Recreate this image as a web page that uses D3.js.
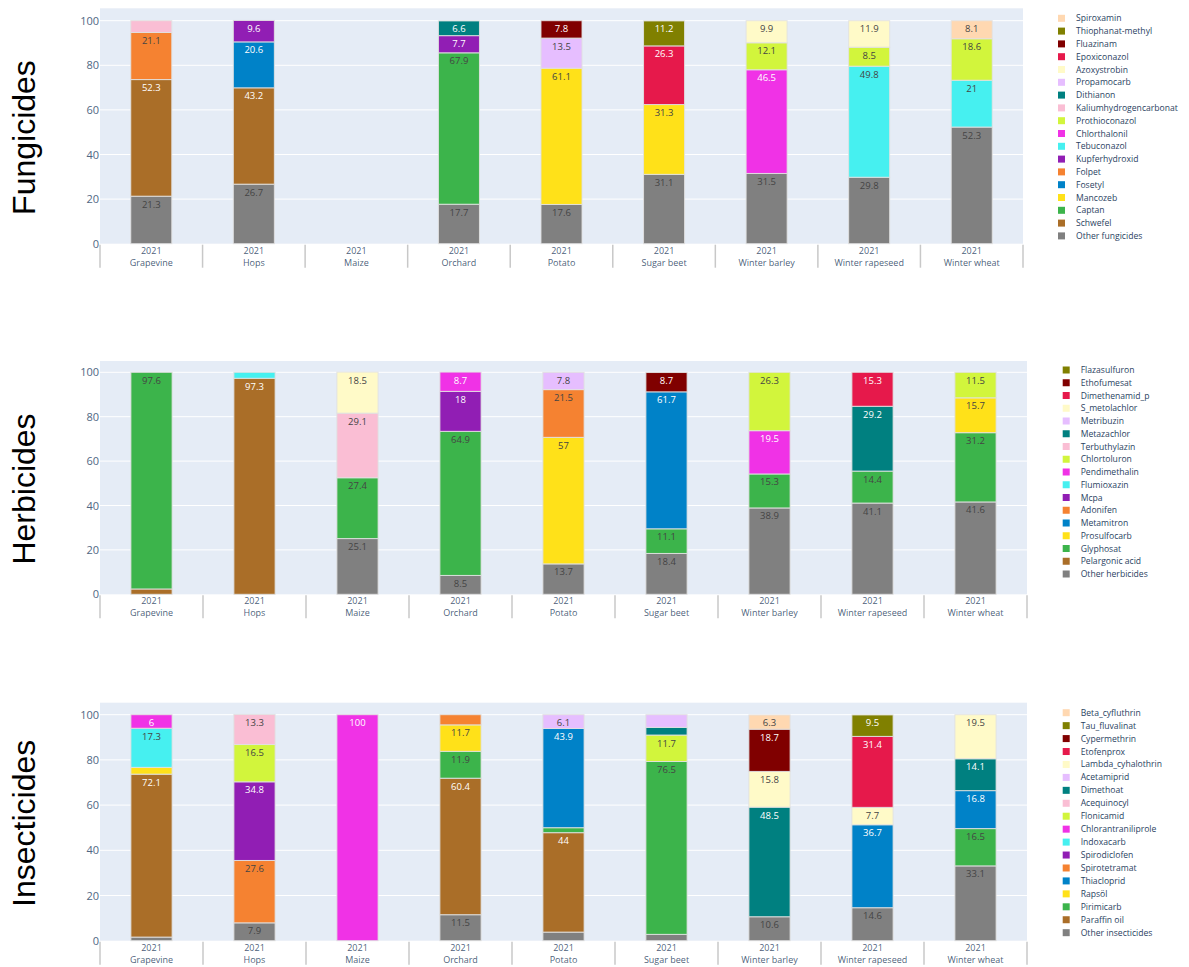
<!DOCTYPE html>
<html>
<head>
<meta charset="utf-8">
<script src="https://cdn.jsdelivr.net/npm/d3@7"></script>
<style>
  html, body { margin: 0; padding: 0; background: #fff; }
  svg { display: block; }
</style>
</head>
<body>
<svg id="chart" width="1189" height="967"></svg>
<script>
// Crops shown on every panel (one stacked bar each, survey year 2021)
const crops = ["Grapevine", "Hops", "Maize", "Orchard", "Potato", "Sugar beet", "Winter barley", "Winter rapeseed", "Winter wheat"];
const surveyYear = "2021";
const yTicks = [0, 20, 40, 60, 80, 100];

// Shared colour sequence: the n-th active substance of each panel gets the n-th colour
const palette = ["#808080", "#aa6e28", "#3cb44b", "#ffe119", "#0082c8", "#f58231", "#911eb4", "#46f0f0",
  "#f032e6", "#d2f53c", "#fabed4", "#008080", "#e6beff", "#fffac8", "#e6194b", "#800000", "#808000", "#ffd8b1"];

// Fungicides: share (%) of treatments per crop, stacked bottom to top
const fungicideNames = ["Other fungicides", "Schwefel", "Captan", "Mancozeb", "Fosetyl", "Folpet", "Kupferhydroxid",
  "Tebuconazol", "Chlorthalonil", "Prothioconazol", "Kaliumhydrogencarbonat", "Dithianon", "Propamocarb",
  "Azoxystrobin", "Epoxiconazol", "Fluazinam", "Thiophanat-methyl", "Spiroxamin"];
const fungicideShares = [
  [21.3, 26.7, 0, 17.7, 17.6, 31.1, 31.5, 29.8, 52.3],
  [52.3, 43.2, 0, 0, 0, 0, 0, 0, 0],
  [0, 0, 0, 67.9, 0, 0, 0, 0, 0],
  [0, 0, 0, 0, 61.1, 31.3, 0, 0, 0],
  [0, 20.6, 0, 0, 0, 0, 0, 0, 0],
  [21.1, 0, 0, 0, 0, 0, 0, 0, 0],
  [0, 9.6, 0, 7.7, 0, 0, 0, 0, 0],
  [0, 0, 0, 0, 0, 0, 0, 49.8, 21],
  [0, 0, 0, 0, 0, 0, 46.5, 0, 0],
  [0, 0, 0, 0, 0, 0, 12.1, 8.5, 18.6],
  [5.3, 0, 0, 0, 0, 0, 0, 0, 0],
  [0, 0, 0, 6.6, 0, 0, 0, 0, 0],
  [0, 0, 0, 0, 13.5, 0, 0, 0, 0],
  [0, 0, 0, 0, 0, 0, 9.9, 11.9, 0],
  [0, 0, 0, 0, 0, 26.3, 0, 0, 0],
  [0, 0, 0, 0, 7.8, 0, 0, 0, 0],
  [0, 0, 0, 0, 0, 11.2, 0, 0, 0],
  [0, 0, 0, 0, 0, 0, 0, 0, 8.1]
];

// Herbicides
const herbicideNames = ["Other herbicides", "Pelargonic acid", "Glyphosat", "Prosulfocarb", "Metamitron", "Adonifen",
  "Mcpa", "Flumioxazin", "Pendimethalin", "Chlortoluron", "Terbuthylazin", "Metazachlor", "Metribuzin",
  "S_metolachlor", "Dimethenamid_p", "Ethofumesat", "Flazasulfuron"];
const herbicideShares = [
  [0, 0, 25.1, 8.5, 13.7, 18.4, 38.9, 41.1, 41.6],
  [2.4, 97.3, 0, 0, 0, 0, 0, 0, 0],
  [97.6, 0, 27.4, 64.9, 0, 11.1, 15.3, 14.4, 31.2],
  [0, 0, 0, 0, 57, 0, 0, 0, 15.7],
  [0, 0, 0, 0, 0, 61.7, 0, 0, 0],
  [0, 0, 0, 0, 21.5, 0, 0, 0, 0],
  [0, 0, 0, 18, 0, 0, 0, 0, 0],
  [0, 2.7, 0, 0, 0, 0, 0, 0, 0],
  [0, 0, 0, 8.7, 0, 0, 19.5, 0, 0],
  [0, 0, 0, 0, 0, 0, 26.3, 0, 11.5],
  [0, 0, 29.1, 0, 0, 0, 0, 0, 0],
  [0, 0, 0, 0, 0, 0, 0, 29.2, 0],
  [0, 0, 0, 0, 7.8, 0, 0, 0, 0],
  [0, 0, 18.5, 0, 0, 0, 0, 0, 0],
  [0, 0, 0, 0, 0, 0, 0, 15.3, 0],
  [0, 0, 0, 0, 0, 8.7, 0, 0, 0],
  [0, 0, 0, 0, 0, 0, 0, 0, 0]
];

// Insecticides
const insecticideNames = ["Other insecticides", "Paraffin oil", "Pirimicarb", "Rapsöl", "Thiacloprid", "Spirotetramat",
  "Spirodiclofen", "Indoxacarb", "Chlorantraniliprole", "Flonicamid", "Acequinocyl", "Dimethoat", "Acetamiprid",
  "Lambda_cyhalothrin", "Etofenprox", "Cypermethrin", "Tau_fluvalinat", "Beta_cyfluthrin"];
const insecticideShares = [
  [1.6, 7.9, 0, 11.5, 3.8, 2.8, 10.6, 14.6, 33.1],
  [72.1, 0, 0, 60.4, 44, 0, 0, 0, 0],
  [0, 0, 0, 11.9, 2.2, 76.5, 0, 0, 16.5],
  [3.0, 0, 0, 11.7, 0, 0, 0, 0, 0],
  [0, 0, 0, 0, 43.9, 0, 0, 36.7, 16.8],
  [0, 27.6, 0, 4.5, 0, 0, 0, 0, 0],
  [0, 34.8, 0, 0, 0, 0, 0, 0, 0],
  [17.3, 0, 0, 0, 0, 0, 0, 0, 0],
  [6.0, 0, 100, 0, 0, 0, 0, 0, 0],
  [0, 16.5, 0, 0, 0, 11.7, 0, 0, 0],
  [0, 13.3, 0, 0, 0, 0, 0, 0, 0],
  [0, 0, 0, 0, 0, 3.4, 48.5, 0, 14.1],
  [0, 0, 0, 0, 6.1, 5.6, 0, 0, 0],
  [0, 0, 0, 0, 0, 0, 15.8, 7.7, 19.5],
  [0, 0, 0, 0, 0, 0, 0, 31.4, 0],
  [0, 0, 0, 0, 0, 0, 18.7, 0, 0],
  [0, 0, 0, 0, 0, 0, 0, 9.5, 0],
  [0, 0, 0, 0, 0, 0, 6.3, 0, 0]
];

// Panel layout
const panels = [
  { title: "Fungicides", names: fungicideNames, shares: fungicideShares,
    left: 100, right: 1023, top: 8.3, y100: 20.7, bottom: 243.7,
    legendX: 1058, legendY: 18.3, legendStep: 12.8, titleY: 137.5 },
  { title: "Herbicides", names: herbicideNames, shares: herbicideShares,
    left: 100, right: 1027, top: 361, y100: 372.3, bottom: 594.3,
    legendX: 1062.7, legendY: 370, legendStep: 12.75, titleY: 489 },
  { title: "Insecticides", names: insecticideNames, shares: insecticideShares,
    left: 100, right: 1027, top: 702.7, y100: 714.7, bottom: 940.7,
    legendX: 1062.7, legendY: 712.7, legendStep: 12.94, titleY: 823.3 }
];

const FONT = '"Open Sans", verdana, arial, sans-serif';
const INK = "#2a3f5f";
const svg = d3.select("#chart");

function labelColor(hex) {
  const c = d3.rgb(hex);
  const brightness = (c.r * 299 + c.g * 587 + c.b * 114) / 1000;
  return brightness >= 128 ? "#444" : "#fff";
}

panels.forEach(p => {
  const g = svg.append("g");
  const x = d3.scaleBand().domain(crops).range([p.left, p.right]).padding(0);
  const y = d3.scaleLinear().domain([0, 100]).range([p.bottom, p.y100]);
  const barW = x.bandwidth() * 0.4;

  // plot background + gridlines
  g.append("rect").attr("x", p.left).attr("y", p.top)
    .attr("width", p.right - p.left).attr("height", p.bottom - p.top).attr("fill", "#e5ecf6");
  g.append("g").selectAll("line").data(yTicks.slice(1)).join("line")
    .attr("x1", p.left).attr("x2", p.right)
    .attr("y1", d => y(d)).attr("y2", d => y(d))
    .attr("stroke", "#fff").attr("stroke-width", 1);

  // y axis labels
  const yAxis = d3.axisLeft(y).tickValues(yTicks).tickSize(0).tickPadding(1);
  const ya = g.append("g").attr("transform", `translate(${p.left},0)`).call(yAxis);
  ya.select(".domain").remove();
  ya.selectAll("text").attr("font-family", FONT).attr("font-size", 11).attr("fill", "#506784");

  // stacked bars
  const stack = d3.stack().keys(d3.range(p.names.length))
    .value((ci, k) => p.shares[k][ci]);
  const layers = stack(d3.range(crops.length));

  layers.forEach((layer, k) => {
    const color = palette[k];
    const segs = layer.map((s, ci) => ({ y0: s[0], y1: s[1], v: p.shares[k][ci], crop: crops[ci] }))
      .filter(d => d.v > 0);
    const lg = g.append("g");
    lg.selectAll("rect").data(segs).join("rect")
      .attr("x", d => x(d.crop) + (x.bandwidth() - barW) / 2)
      .attr("width", barW)
      .attr("y", d => y(d.y1))
      .attr("height", d => y(d.y0) - y(d.y1))
      .attr("fill", color)
      .attr("stroke", "rgba(225,225,225,0.9)")
      .attr("stroke-width", 1);
    lg.selectAll("text").data(segs.filter(d => d.v >= 6)).join("text")
      .attr("x", d => x(d.crop) + x.bandwidth() / 2)
      .attr("y", d => y(d.y1) + 11.5)
      .attr("text-anchor", "middle")
      .attr("font-family", FONT).attr("font-size", 9.5)
      .attr("fill", labelColor(color))
      .text(d => String(d.v));
  });

  // multi-level category axis: year row, crop row, separators
  const xa = g.append("g");
  xa.selectAll("text.yr").data(crops).join("text").attr("class", "yr")
    .attr("x", d => x(d) + x.bandwidth() / 2).attr("y", p.bottom + 10)
    .attr("text-anchor", "middle").attr("font-family", FONT).attr("font-size", 9)
    .attr("fill", INK).attr("fill-opacity", 0.85).text(surveyYear);
  xa.selectAll("text.crop").data(crops).join("text").attr("class", "crop")
    .attr("x", d => x(d) + x.bandwidth() / 2).attr("y", p.bottom + 21.8)
    .attr("text-anchor", "middle").attr("font-family", FONT).attr("font-size", 9)
    .attr("fill", INK).attr("fill-opacity", 0.85).text(d => d);
  const seps = crops.map(c => x(c)).concat([p.right]);
  xa.selectAll("line").data(seps).join("line")
    .attr("x1", d => d).attr("x2", d => d)
    .attr("y1", p.bottom + 1).attr("y2", p.bottom + 24)
    .attr("stroke", "#c8c8c8").attr("stroke-width", 1.5);

  // legend (last series on top)
  const lgd = g.append("g");
  const items = p.names.map((n, k) => ({ n, k })).reverse();
  items.forEach((it, i) => {
    const cy = p.legendY + i * p.legendStep;
    lgd.append("rect").attr("x", p.legendX).attr("y", cy - 3.5)
      .attr("width", 7).attr("height", 7).attr("fill", palette[it.k]);
    lgd.append("text").attr("x", p.legendX + 18).attr("y", cy)
      .attr("dominant-baseline", "central")
      .attr("font-family", FONT).attr("font-size", 8.6).attr("fill", INK)
      .text(it.n);
  });

  // panel title
  g.append("text")
    .attr("transform", `translate(35,${p.titleY}) rotate(-90)`)
    .attr("text-anchor", "middle")
    .attr("font-family", '"Liberation Sans", Arial, sans-serif')
    .attr("font-size", 32).attr("fill", "#000")
    .text(p.title);
});
</script>
</body>
</html>
